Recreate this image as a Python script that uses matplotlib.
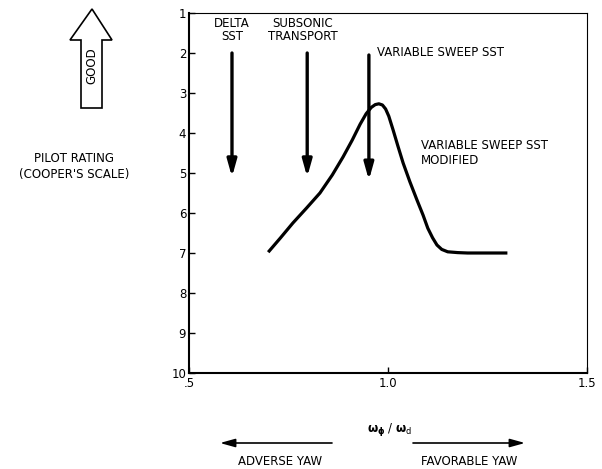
import matplotlib.pyplot as plt
from matplotlib.patches import Polygon

plt.rcParams['font.family'] = ['DejaVu Sans']

# Pilot rating vs roll/dutch-roll frequency ratio
ratio = [0.699, 0.730, 0.761, 0.795, 0.829, 0.860, 0.887, 0.910, 0.930, 0.945,
         0.958, 0.968, 0.977, 0.986, 0.994, 1.002, 1.013, 1.025, 1.038, 1.055,
         1.073, 1.088, 1.100, 1.112, 1.123, 1.135, 1.150, 1.175, 1.20, 1.30]
rating = [6.98, 6.62, 6.25, 5.88, 5.50, 5.05, 4.60, 4.18, 3.78, 3.52,
          3.36, 3.29, 3.27, 3.30, 3.40, 3.58, 3.93, 4.33, 4.75, 5.22,
          5.68, 6.05, 6.38, 6.62, 6.80, 6.91, 6.97, 6.99, 7.0, 7.0]

# Aircraft markers
aircraft = ['DELTA\nSST', 'SUBSONIC\nTRANSPORT', 'VARIABLE SWEEP SST']
arrow_x = [0.608, 0.797, 0.952]
arrow_top = [2.0, 2.0, 2.05]
arrow_tip = [5.1, 5.1, 5.18]

y_ticks = [1, 2, 3, 4, 5, 6, 7, 8, 9, 10]
x_ticks = [0.5, 1.0, 1.5]
x_tick_labels = ['.5', '1.0', '1.5']

W, H = 602, 469
fig = plt.figure(figsize=(W / 100, H / 100), dpi=100)
ax = fig.add_axes([189 / W, 1 - 373 / H, 398 / W, 360 / H])


def px(x, y):
    return (x / W, 1 - y / H)


ax.plot(ratio, rating, color='black', lw=2.3, solid_capstyle='butt',
        solid_joinstyle='round')

for x0, top, tip in zip(arrow_x, arrow_top, arrow_tip):
    ax.annotate('', xy=(x0, tip), xytext=(x0, top),
                arrowprops=dict(arrowstyle='-|>,head_length=1.0,head_width=0.28',
                                color='black', lw=2.4, shrinkA=0, shrinkB=0))

fs = 8.5
ax.text(0.608, 1.1, aircraft[0], ha='center', va='top', fontsize=fs, linespacing=1.05)
ax.text(0.785, 1.1, aircraft[1], ha='center', va='top', fontsize=fs, linespacing=1.05)
ax.text(0.973, 2.0, aircraft[2], ha='left', va='center', fontsize=fs)
ax.text(1.082, 4.5, 'VARIABLE SWEEP SST\nMODIFIED', ha='left', va='center',
        fontsize=fs, linespacing=1.25)

ax.set_xlim(0.5, 1.5)
ax.set_ylim(10, 1)
ax.set_yticks(y_ticks)
ax.set_xticks(x_ticks)
ax.set_xticklabels(x_tick_labels)
ax.tick_params(axis='both', direction='in', length=4, width=1, labelsize=fs, pad=3)
ax.tick_params(axis='y', pad=2)
for side in ['left', 'bottom']:
    ax.spines[side].set_linewidth(1.5)
for side in ['top', 'right']:
    ax.spines[side].set_linewidth(0.8)

# "GOOD" hollow arrow on the left
good = [(81, 108), (81, 40), (70, 40), (92, 9), (112, 40), (102, 40), (102, 108)]
fig.patches.append(Polygon([px(x, y) for x, y in good], closed=True, fill=False,
                           edgecolor='black', lw=1.2, transform=fig.transFigure))
fig.text(*px(92, 66), 'GOOD', rotation=90, ha='center', va='center', fontsize=fs)

fig.text(*px(74, 166), "PILOT RATING\n(COOPER'S SCALE)", ha='center', va='center',
         fontsize=fs, linespacing=1.3)

fig.text(*px(390, 429), r'$\mathbf{\omega_{\phi}}$ / $\mathbf{\omega}_{\rm d}$',
         ha='center', va='center', fontsize=fs)

# yaw direction arrows
for x_from, x_to in [(332, 220), (413, 525)]:
    ax.annotate('', xy=px(x_to, 443), xytext=px(x_from, 443),
                xycoords='figure fraction', textcoords='figure fraction',
                arrowprops=dict(arrowstyle='-|>,head_length=0.9,head_width=0.25',
                                color='black', lw=1.2, shrinkA=0, shrinkB=0))
fig.text(*px(280, 461), 'ADVERSE YAW', ha='center', va='center', fontsize=fs)
fig.text(*px(469, 461), 'FAVORABLE YAW', ha='center', va='center', fontsize=fs)

fig.savefig('out.png', dpi=100)
